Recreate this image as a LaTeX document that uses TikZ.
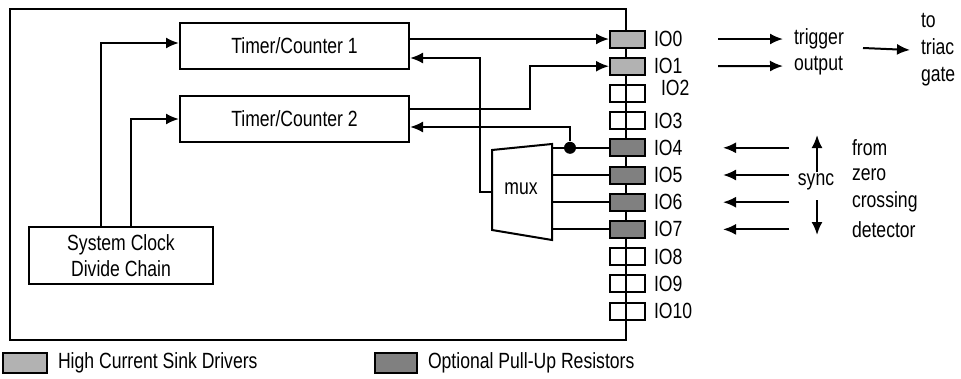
\documentclass[tikz,border=0pt]{standalone}
\usepackage{fontspec}
\setmainfont{Liberation Sans}[FakeStretch=0.8]
\usetikzlibrary{arrows.meta,positioning,calc}
\definecolor{hcs}{gray}{0.70}
\definecolor{pud}{gray}{0.50}
\tikzset{
  blk/.style={draw,inner sep=0pt,align=center},
  iopin/.style={draw,minimum width=35pt,minimum height=17pt,inner sep=0pt},
  arr/.style={-{Latex[length=13pt,width=11pt]}},
  lbl/.style={inner sep=0pt,anchor=west},
  jdot/.style={circle,fill,inner sep=0pt,minimum size=12pt},
}

\begin{document}
\begin{tikzpicture}[x=1pt,y=-1pt,line width=2pt,font={\fontsize{22}{26}\selectfont}]
  \useasboundingbox (0,0) rectangle (961,378);
  % chip outline, right edge doubles as the port bus
  \draw (10,9) rectangle (626,340);

  \node[blk,minimum width=229pt,minimum height=46pt] (tc1) at (294.5,46) {Timer/Counter 1};
  \node[blk,minimum width=229pt,minimum height=46pt] (tc2) at (294.5,119) {Timer/Counter 2};
  \node[blk,minimum width=184pt,minimum height=57pt] (clk) at (121,255.5) {System Clock\\Divide Chain};

  % port pins
  \foreach \i/\f/\dx/\dy in {0/hcs/0/0,1/hcs/0/0,2/none/7/5,3/none/0/0,4/pud/0/0,5/pud/0/0,
      6/pud/0/0,7/pud/0/0,8/none/0/0,9/none/0/0,10/none/0/0} {
    \node[iopin,fill=\f] (io\i) at (627.5,{39+27.2*\i}) {};
    \node[lbl] (iol\i) at ([xshift=7pt+\dx pt,yshift=\dy pt]io\i.east) {IO\i};
  }

  % mux
  \draw (492,150) -- (552,144) -- (552,240) -- (492,230) -- cycle;
  \node (mux) at (521,189) {mux};
  \coordinate (mxr) at (552,0);
  \coordinate (mxin) at (492,192);

  % timer wiring
  \draw[arr] (tc1.east |- io0) -- (io0.west);
  \draw[arr] (mxin) -- ++(-12,0) |- ($(tc1.east)+(0,12)$);
  \draw[arr] ($(tc2.east)+(0,-10)$) -- ++(120,0) |- (io1.west);
  \node[jdot] (jn) at ($(io4)+(-57.5,0)$) {};
  \draw (io4 -| mxr) -- (io4.west);
  \draw[arr] (jn) |- ($(tc2.east)+(0,8)$);
  \foreach \i in {5,6,7}
    \draw (io\i -| mxr) -- (io\i.west);
  \draw[arr] ($(clk.north)+(-20,0)$) |- ($(tc1.west)+(0,-3)$);
  \draw[arr] ($(clk.north)+(10,0)$) |- (tc2.west);

  % outputs
  \node[lbl] (trig) at (793,39) {trigger};
  \node[lbl] (outp) at (793,66) {output};
  \node[lbl,align=left,font={\fontsize{22}{27}\selectfont}] (gate) at (920,50) {to\\triac\\gate};
  \coordinate (o0) at ($(io0.east)+(72,0)$);
  \coordinate (o1) at ($(io1.east)+(72,0)$);
  \coordinate (og) at (863,48);
  \draw[arr] (o0) -- ([xshift=-10pt]trig.west);
  \draw[arr] (o1) -- ([xshift=-10pt]outp.west);
  \draw[arr] (og) -- ([xshift=-10pt]gate.west);

  % zero crossing inputs
  \foreach \i/\w in {4/from,5/zero,6/crossing,7/detector} {
    \coordinate (zs\i) at ($(io\i.east)+(143,0)$);
    \draw[arr] (zs\i) -- ++(-66,0);
    \node[lbl] (zc\i) at ($(io\i.east)+(205,0)$) {\w};
  }
  \node[inner sep=0pt] (sync) at (816,182) {sync};
  \draw[arr] ($(sync)+(1,-10)$) -- ++(0,-37);
  \draw[arr] ($(sync)+(1,18)$) -- ++(0,35);

  % key
  \node[iopin,fill=hcs,minimum width=44pt,minimum height=20pt] (key1) at (25,363) {};
  \node[lbl,right=9pt of key1] (key1t) {High Current Sink Drivers};
  \node[iopin,fill=pud,minimum width=42pt,minimum height=20pt] (key2) at (396,363) {};
  \node[lbl,right=9pt of key2] (key2t) {Optional Pull-Up Resistors};
\end{tikzpicture}
\end{document}
